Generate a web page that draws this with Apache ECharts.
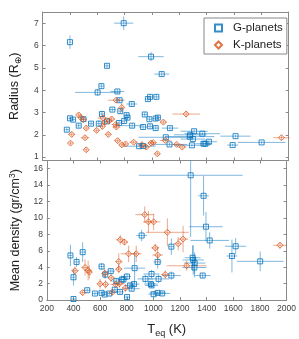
<!DOCTYPE html>
<html>
<head>
<meta charset="utf-8">
<script src="https://cdn.jsdelivr.net/npm/echarts@6/dist/echarts.min.js"></script>
<style>html,body{margin:0;padding:0;background:#fff}#c{width:299px;height:339px}</style>
</head>
<body>
<div id="c"></div>
<script>
// [Teq (K), value, Teq error, value error]
const gRadius = [
  [377,2.23,15,0.08],[400,6.15,10,0.3],[400,2.74,15,0.08],[423,2.68,15,0.08],[464,2.41,15,0.1],
  [499,2.70,20,0.1],[554,2.50,15,0.08],[602,3.90,165,0.15],[611,2.50,15,0.15],[630,4.18,15,0.1],
  [634,2.93,15,0.15],[671,5.09,15,0.1],[671,2.60,20,0.1],[710,3.13,25,0.08],[747,3.94,50,0.1],
  [759,2.53,20,0.1],[763,3.55,30,0.1],[768,3.06,15,0.1],[793,7.00,70,0.3],[797,2.62,20,0.1],
  [814,2.88,15,0.1],[821,2.77,15,0.1],[852,3.38,40,0.1],[855,2.41,75,0.1],[906,1.49,120,0.05],
  [935,2.35,30,0.1],[935,1.50,30,0.05],[947,2.91,20,0.1],[970,3.60,20,0.1],[981,2.70,20,0.1],
  [986,3.70,20,0.1],[986,2.38,20,0.1],[993,5.50,93,0.2],[1027,2.73,20,0.1],[1027,2.30,25,0.1],
  [1032,3.70,20,0.1],[1043,2.77,20,0.1],[1071,4.72,55,0.1],[1101,1.89,200,0.06],[1128,1.57,130,0.06],
  [1131,2.30,60,0.08],[1276,1.92,180,0.06],[1280,2.00,120,0.08],[1299,1.81,90,0.06],[1292,1.53,130,0.06],
  [1308,2.16,100,0.08],[1368,2.05,130,0.06],[1377,1.60,60,0.06],[1390,1.60,40,0.06],[1416,1.69,60,0.06],
  [1590,1.54,40,0.06],[1611,1.94,110,0.06],[1802,1.66,175,0.06]
];
const kRadius = [
  [404,1.63,15,0.08],[413,2.02,25,0.1],[464,2.89,15,0.1],[480,2.77,15,0.1],[497,2.68,15,0.1],
  [510,1.87,30,0.1],[519,2.30,15,0.1],[519,1.33,15,0.1],[595,2.20,20,0.1],[637,2.38,20,0.15],
  [641,2.75,40,0.15],[657,2.57,20,0.1],[680,2.02,20,0.1],[687,2.62,20,0.1],[705,2.71,20,0.1],
  [735,2.46,30,0.1],[740,2.35,30,0.1],[738,3.55,60,0.1],[779,3.22,15,0.2],[749,1.74,25,0.1],
  [779,1.55,20,0.1],[807,1.59,20,0.08],[866,1.67,30,0.08],[926,1.56,25,0.08],[958,1.45,25,0.08],
  [993,1.63,25,0.08],[1009,1.65,25,0.08],[1039,1.15,20,0.08],[1083,2.57,25,0.1],[1097,1.75,40,0.08],
  [1181,1.57,30,0.08],[1221,1.45,30,0.08],[1250,2.93,100,0.15],[1947,1.87,60,0.1]
];
const gDensity = [
  [377,5.43,15,1.3],[400,2.77,15,1.0],[400,0.12,15,0.1],[423,4.64,20,0.6],[469,5.83,20,1.2],
  [503,1.19,25,0.2],[561,0.79,20,0.2],[611,0.87,30,0.2],[611,4.08,20,0.4],[634,0.67,15,0.2],
  [639,3.10,20,0.5],[669,0.79,20,0.2],[680,3.52,30,0.3],[710,1.26,25,0.3],[722,2.30,30,0.4],
  [749,0.99,30,0.3],[763,2.50,30,0.5],[775,2.50,30,0.5],[802,2.86,30,0.4],[802,0.36,20,0.2],
  [825,1.78,40,0.3],[837,1.38,60,0.3],[855,1.94,40,0.3],[859,3.88,80,2.0],[912,7.86,40,0.7],
  [940,2.57,60,0.5],[986,3.17,60,0.5],[986,1.78,50,0.3],[981,1.95,50,0.3],[1002,0.71,40,0.2],
  [1032,0.87,60,0.2],[1032,4.64,30,0.8],[1039,2.57,80,0.5],[1066,0.80,60,0.2],[1135,6.50,20,1.0],
  [1135,2.98,70,0.5],[1280,15.2,390,7.5],[1377,12.7,40,2.4],[1395,8.93,126,1.8],[1423,7.26,145,1.0],
  [1299,4.88,80,1.8],[1295,5.15,60,1.5],[1308,3.96,90,1.2],[1310,4.50,80,1.3],[1370,2.98,60,0.3],
  [1590,5.36,40,2.0],[1618,6.55,80,1.0],[1802,4.71,175,1.2]
];
const kDensity = [
  [411,3.57,25,0.5],[469,0.90,20,0.3],[487,3.96,25,1.0],[510,3.60,25,1.2],[519,3.40,20,0.8],
  [600,1.98,20,0.6],[634,3.25,20,0.6],[641,1.90,20,0.5],[683,2.69,25,0.5],[692,0.95,25,0.3],
  [717,1.90,40,0.4],[740,4.68,25,1.0],[740,3.76,25,0.5],[745,1.98,40,0.5],[751,7.34,30,0.6],
  [783,7.06,25,0.4],[790,1.46,25,0.5],[814,5.63,60,1.0],[871,5.63,40,1.0],[935,10.4,70,1.0],
  [963,9.52,40,1.3],[1002,9.52,50,1.0],[1014,6.35,30,0.5],[1032,5.48,40,1.0],[1089,3.10,30,0.5],
  [1105,8.25,160,1.7],[1186,6.86,30,0.8],[1223,7.42,40,1.6],[1250,4.17,150,0.6],[1951,6.67,50,0.4]
];
const xTicks = [200,400,600,800,1000,1200,1400,1600,1800,2000];
const radiusTicks = [1,2,3,4,5,6,7];
const densityTicks = [0,2,4,6,8,10,12,14,16];

const BLUE = '#0072BD', ORANGE = '#D95319';
const BLUE_ERR = 'rgba(0,114,189,0.5)', ORANGE_ERR = 'rgba(217,83,25,0.5)';
const AX = '#8a8a8a', TXT = '#404040';
const FONT = 'Liberation Sans, Arial, sans-serif';

function errRender(color) {
  return function (params, api) {
    const x = api.value(0), y = api.value(1), ex = api.value(2), ey = api.value(3);
    const l = api.coord([x - ex, y]), r = api.coord([x + ex, y]);
    const t = api.coord([x, y + ey]), b = api.coord([x, y - ey]);
    const st = { stroke: color, lineWidth: 1 };
    return { type: 'group', children: [
      { type: 'line', shape: { x1: l[0], y1: l[1], x2: r[0], y2: r[1] }, style: st },
      { type: 'line', shape: { x1: t[0], y1: t[1], x2: b[0], y2: b[1] }, style: st }
    ]};
  };
}

const grids = [
  { left: 27.7, right: 10.3, top: 12, height: 148.5 },
  { left: 27.7, right: 10.3, top: 160.5, height: 142.8 }
];
function xAx(grid, pos, labels, name) {
  return {
    type: 'value', gridIndex: grid, position: pos, min: 200, max: 2000, interval: 200,
    axisLine: { show: true, onZero: false, lineStyle: { color: AX, width: 1 } },
    axisTick: { show: true, inside: true, length: 3, lineStyle: { color: AX } },
    axisLabel: { show: labels, fontSize: 8.5, color: TXT, margin: 4, fontFamily: FONT,
      customValues: xTicks, formatter: v => String(v) },
    splitLine: { show: false },
    name: name || '', nameLocation: 'middle', nameGap: 21,
    nameTextStyle: { fontSize: 13, color: '#222', fontFamily: FONT,
      rich: { s: { fontSize: 9, verticalAlign: 'bottom', color: '#222', fontFamily: FONT, padding: [8,0,0,0] } } }
  };
}
function yAx(grid, pos, min, max, ticks, labels, name, rich) {
  return {
    type: 'value', gridIndex: grid, position: pos, min: min, max: max,
    axisLine: { show: true, onZero: false, lineStyle: { color: AX, width: 1 } },
    axisTick: { show: true, inside: true, length: 3, lineStyle: { color: AX }, customValues: ticks },
    axisLabel: { show: labels, fontSize: 8.5, color: TXT, margin: 4, fontFamily: FONT, customValues: ticks,
      formatter: v => String(v) },
    splitLine: { show: false },
    name: name || '', nameLocation: 'middle', nameGap: 15,
    nameTextStyle: { fontSize: 12.5, color: '#222', fontFamily: FONT, rich: rich || {} }
  };
}

const option = {
  animation: false,
  backgroundColor: '#fff',
  textStyle: { fontFamily: FONT },
  grid: grids,
  legend: {
    data: ['G-planets', 'K-planets'], orient: 'vertical', left: 204, top: 18,
    itemWidth: 7, itemHeight: 7, itemGap: 5, padding: [4, 4, 3, 10],
    borderColor: '#888', borderWidth: 1, backgroundColor: '#fff',
    textStyle: { fontSize: 11.5, color: '#222', fontFamily: FONT, padding: [0, 0, 0, 6] }
  },
  xAxis: [
    xAx(0, 'bottom', false), xAx(0, 'top', false),
    xAx(1, 'bottom', true, 'T{s|eq} (K)'), xAx(1, 'top', false)
  ],
  yAxis: [
    yAx(0, 'left', 0.85, 7.5, radiusTicks, true, 'Radius (R{s|⊕})',
      { s: { fontSize: 9, fontFamily: 'DejaVu Sans', color: '#222', padding: [8,0,0,0] } }),
    yAx(0, 'right', 0.85, 7.5, radiusTicks, false),
    yAx(1, 'left', 0, 17, densityTicks, true, 'Mean density (gr/cm{p|3})',
      { p: { fontSize: 8.5, color: '#222', fontFamily: FONT, padding: [0,0,7,0] } }),
    yAx(1, 'right', 0, 17, densityTicks, false)
  ],
  series: [
    { type: 'custom', xAxisIndex: 0, yAxisIndex: 0, data: gRadius, renderItem: errRender(BLUE_ERR), clip: true, z: 1, silent: true },
    { type: 'custom', xAxisIndex: 0, yAxisIndex: 0, data: kRadius, renderItem: errRender(ORANGE_ERR), clip: true, z: 1, silent: true },
    { type: 'custom', xAxisIndex: 2, yAxisIndex: 2, data: gDensity, renderItem: errRender(BLUE_ERR), clip: true, z: 1, silent: true },
    { type: 'custom', xAxisIndex: 2, yAxisIndex: 2, data: kDensity, renderItem: errRender(ORANGE_ERR), clip: true, z: 1, silent: true },
    { name: 'G-planets', type: 'scatter', xAxisIndex: 0, yAxisIndex: 0, data: gRadius.map(d => [d[0], d[1]]),
      symbol: 'rect', symbolSize: 5, itemStyle: { color: 'rgba(255,255,255,0)', borderColor: BLUE, borderWidth: 1 }, z: 3 },
    { name: 'K-planets', type: 'scatter', xAxisIndex: 0, yAxisIndex: 0, data: kRadius.map(d => [d[0], d[1]]),
      symbol: 'diamond', symbolSize: 6, itemStyle: { color: 'rgba(255,255,255,0)', borderColor: ORANGE, borderWidth: 1 }, z: 3 },
    { name: 'G-planets', type: 'scatter', xAxisIndex: 2, yAxisIndex: 2, data: gDensity.map(d => [d[0], d[1]]),
      symbol: 'rect', symbolSize: 5, itemStyle: { color: 'rgba(255,255,255,0)', borderColor: BLUE, borderWidth: 1 }, z: 3 },
    { name: 'K-planets', type: 'scatter', xAxisIndex: 2, yAxisIndex: 2, data: kDensity.map(d => [d[0], d[1]]),
      symbol: 'diamond', symbolSize: 6, itemStyle: { color: 'rgba(255,255,255,0)', borderColor: ORANGE, borderWidth: 1 }, z: 3 }
  ]
};
const chart = echarts.init(document.getElementById('c'), null, { renderer: 'canvas' });
chart.setOption(option);
</script>
</body>
</html>
